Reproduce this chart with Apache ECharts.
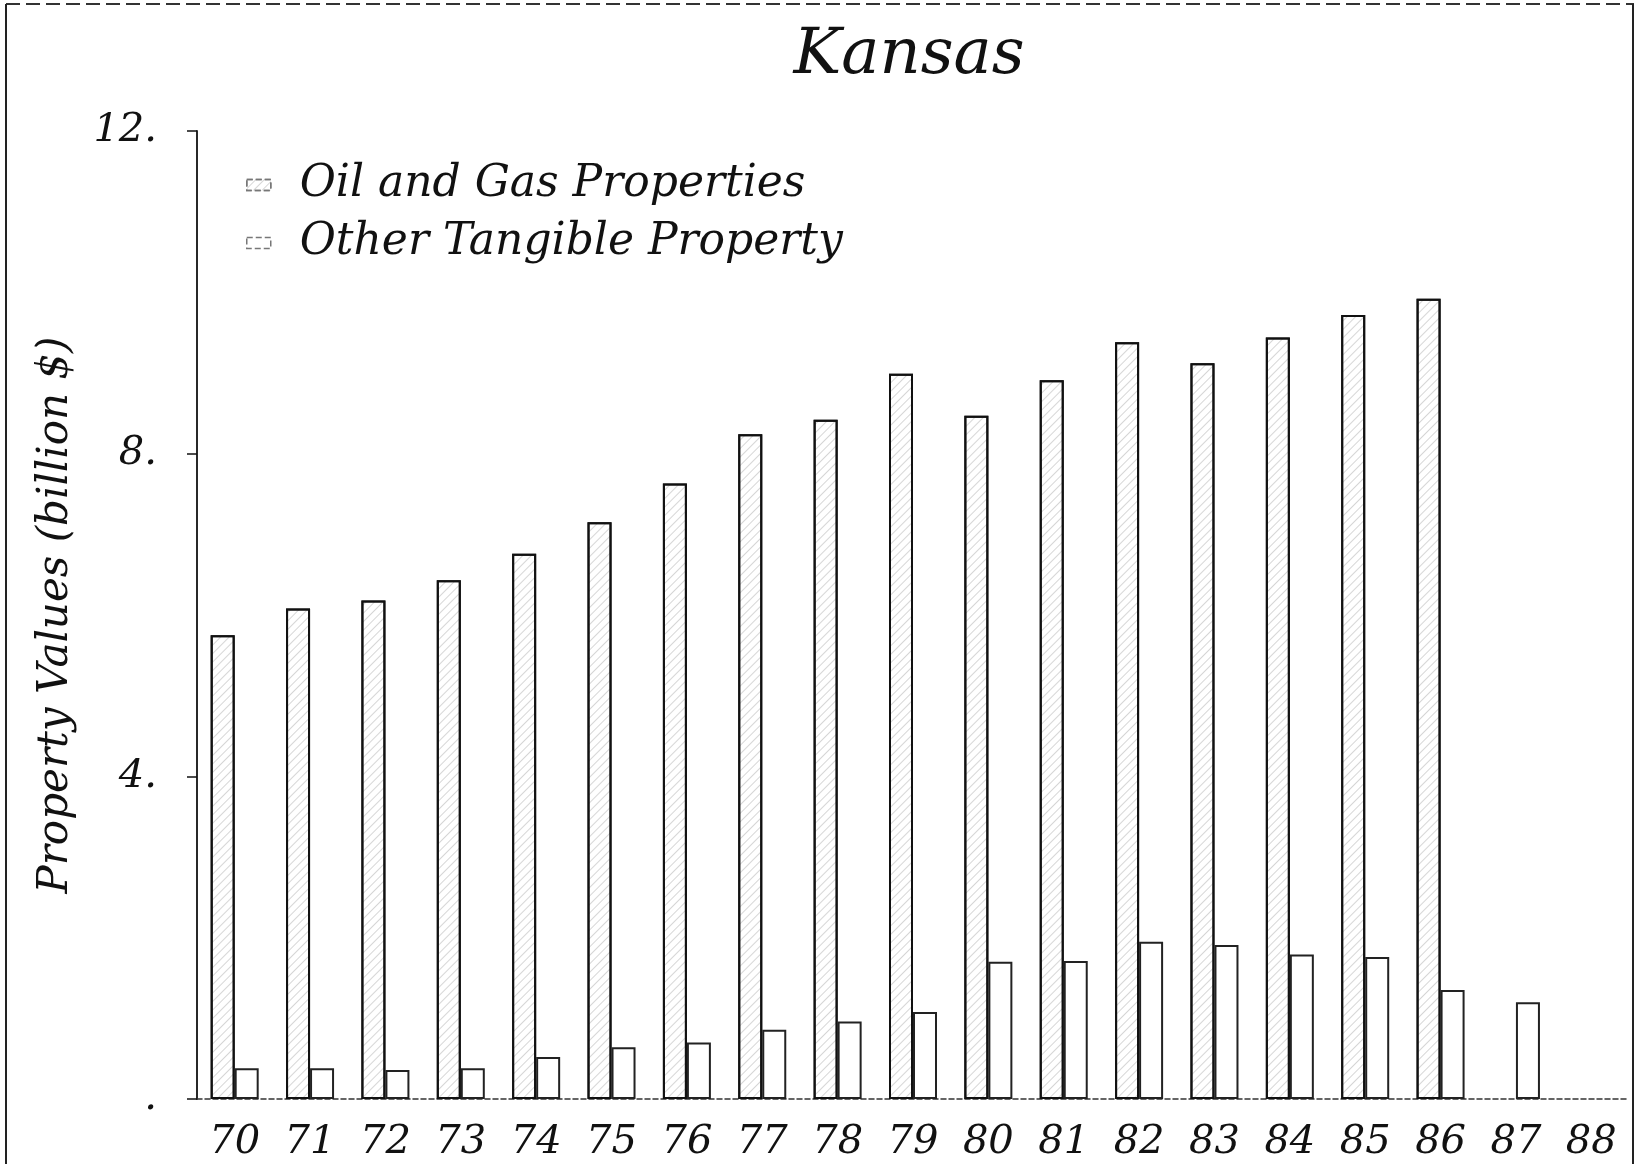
<!DOCTYPE html>
<html><head><meta charset="utf-8">
<script src="https://cdn.jsdelivr.net/npm/echarts@6/dist/echarts.min.js"></script>
<style>html,body{margin:0;padding:0;background:#fff}#c{width:1642px;height:1164px}</style>
</head><body><div id="c"></div>
<script>
const years = ['70','71','72','73','74','75','76','77','78','79','80','81','82','83','84','85','86','87','88'];
const oilGas = [5.75,6.08,6.18,6.43,6.76,7.15,7.63,8.24,8.42,8.99,8.47,8.91,9.38,9.12,9.44,9.72,9.92,null,null];
const otherTangible = [0.38,0.38,0.36,0.38,0.52,0.64,0.70,0.86,0.96,1.08,1.70,1.71,1.95,1.91,1.79,1.76,1.35,1.20,null];
const yTicks = [0,4,8,12];
const yTickLabels = ['.','4.','8.','12.'];
const seriesNames = ['Oil and Gas Properties','Other Tangible Property'];

const FONT = 'DejaVu Serif';
const chart = echarts.init(document.getElementById('c'), null, {renderer:'canvas'});
const hatch = {symbol:'rect', symbolSize:1, dashArrayX:[[1,0]], dashArrayY:[1,5], rotation:-Math.PI/4, color:'rgba(0,0,0,0.16)'};
chart.setOption({
  backgroundColor:'#fff',
  animation:false,
  title:{text:'Kansas', left:904, textAlign:'center', top:19,
    textStyle:{fontFamily:FONT, fontStyle:'italic', fontWeight:'normal', fontSize:64, color:'#111'}},
  legend:{orient:'vertical', left:241, top:158, itemWidth:24, itemHeight:11, itemGap:14, icon:'rect',
    data:seriesNames.map(n=>({name:n, itemStyle:{color:'#fff', borderColor:'#777', borderWidth:1.5, borderType:'dashed'}})),
    textStyle:{fontFamily:FONT, fontStyle:'italic', fontSize:44, color:'#111', lineHeight:44, padding:[0,0,0,24]}},
  grid:{left:197, right:13, top:131, bottom:65, containLabel:false},
  xAxis:{type:'category', data:years, boundaryGap:true,
    axisLine:{lineStyle:{color:'#333', width:1.5, type:[5,3]}},
    axisTick:{show:false},
    axisLabel:{fontFamily:FONT, fontStyle:'italic', fontSize:40, color:'#111', margin:24, interval:0}},
  yAxis:{type:'value', min:0, max:12, interval:4,
    name:'Property Values (billion $)', nameLocation:'middle', nameGap:120, nameRotate:90,
    nameTextStyle:{fontFamily:FONT, fontStyle:'italic', fontSize:42, color:'#111'},
    axisLine:{show:true, lineStyle:{color:'#111', width:1.8}},
    axisTick:{show:true, length:10, lineStyle:{color:'#111', width:1.5}},
    splitLine:{show:false},
    axisLabel:{fontFamily:FONT, fontStyle:'italic', fontSize:40, color:'#111', margin:40,
      formatter:v=>{const i=yTicks.indexOf(v); return i>=0?yTickLabels[i]:'';}}},
  series:[
    {name:seriesNames[0], type:'bar', data:oilGas, barWidth:24, barGap:'0%',
      itemStyle:{color:'#fff', borderColor:'#111', borderWidth:2, decal:hatch}},
    {name:seriesNames[1], type:'bar', data:otherTangible, barWidth:24,
      itemStyle:{color:'#fff', borderColor:'#222', borderWidth:2}}
  ],
  graphic:[
    {type:'line', shape:{x1:6,y1:4,x2:1634,y2:4}, style:{stroke:'#333', lineWidth:2, lineDash:[14,6]}},
    {type:'line', shape:{x1:6,y1:4,x2:6,y2:1164}, style:{stroke:'#222', lineWidth:2}},
    {type:'line', shape:{x1:1633,y1:4,x2:1633,y2:1164}, style:{stroke:'#222', lineWidth:2}}
  ]
});
</script></body></html>
